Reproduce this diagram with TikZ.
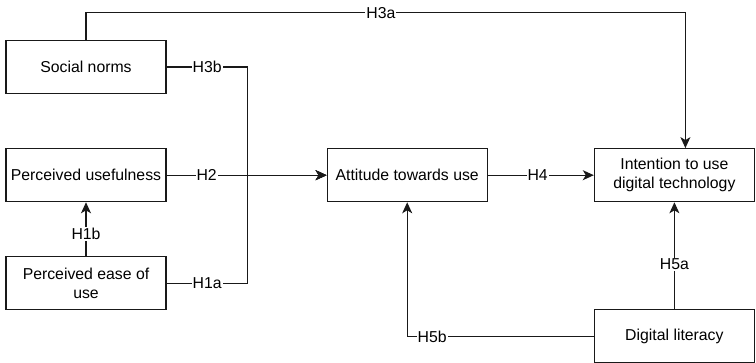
\documentclass[tikz,border=0pt]{standalone}
\usepackage{fontspec}
\setmainfont{Liberation Sans}
\usetikzlibrary{positioning, arrows.meta}
\definecolor{clinea}{RGB}{25,25,25}

\begin{document}
\begin{tikzpicture}[x=1pt, y=1pt, font=\fontsize{15.8}{19}\selectfont, >={Stealth[length=11pt, width=10pt, inset=3pt]},
    caja/.style={draw=clinea, line width=1.2pt, minimum width=160pt, minimum height=53pt, align=center, inner sep=2pt},
    hip/.style={fill=white, inner sep=1pt},
    flecha/.style={->, draw=clinea, line width=1.1pt}]

  \useasboundingbox (0,0) rectangle (756,-363);

  % constructos
  \node[caja] (sn) at (86,-67) {Social norms};
  \node[caja, below=54pt of sn] (pu) {Perceived usefulness};
  \node[caja, below=54pt of pu] (peou) {Perceived ease of\\use};
  \node[caja, right=160pt of pu] (att) {Attitude towards use};
  \node[caja, right=106pt of att] (int) {Intention to use\\digital technology};
  \node[caja, below=107pt of int] (dl) {Digital literacy};

  % hipotesis
  \draw[flecha] (sn.north) -- ++(0,27) -| node[hip, pos=0.246]{H3a} ([xshift=11pt]int.north);
  \draw[flecha] (sn.east) -- node[hip]{H3b} ++(81,0) |- (att.west);
  \draw[flecha] (peou.east) -- node[hip]{H1a} ++(81,0) |- (att.west);
  \draw[flecha] (pu) -- node[hip, pos=0.25]{H2} (att);
  \draw[flecha] (peou) -- node[hip, pos=0.41]{H1b} (pu);
  \draw[flecha] (att) -- node[hip, pos=0.47]{H4} (int);
  \draw[flecha] (dl) -- node[hip, pos=0.42]{H5a} (int);
  \draw[flecha] (dl.west) -| node[hip, pos=0.433]{H5b} (att.south);
\end{tikzpicture}
\end{document}
